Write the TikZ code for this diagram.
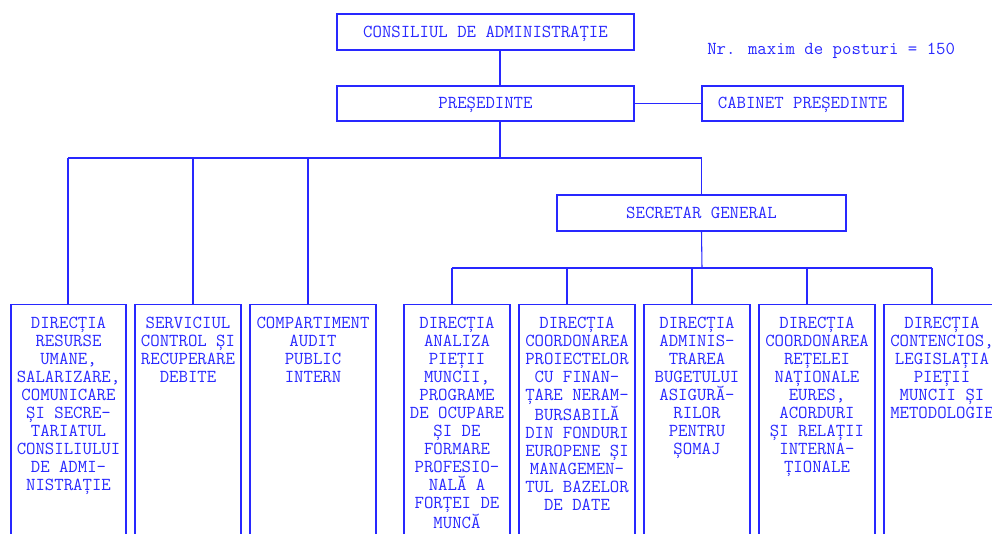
\documentclass[tikz,border=0pt]{standalone}
\usepackage{fontspec}
\definecolor{orgblue}{RGB}{40,40,255}
\tikzset{
  every node/.style={font=\ttfamily\fontsize{13.7}{13.5}\selectfont, text=orgblue},
  topbox/.style={draw=orgblue, line width=0.8pt, inner sep=0pt, text height=8.2pt, text depth=0pt},
  dirbox/.style={draw=orgblue, line width=0.8pt, anchor=north, minimum height=192.75pt},
  dirtext/.style={anchor=north, align=center, inner sep=0pt, yshift=-10.1pt},
  conn/.style={draw=orgblue, line width=0.8pt},
}
\begin{document}
\begin{tikzpicture}[x=0.75pt, y=-0.75pt]
			%%%%% START %%%%%
			\clip (0,0) rectangle (992,533);
			
			\node[topbox, minimum width=222.75pt, minimum height=27pt] (cons) at (485.5, 32) {CONSILIUL DE ADMINISTRAȚIE};
			\node[topbox, minimum width=222.75pt, minimum height=26.25pt] (pres) at (485.5, 103.5) {PREȘEDINTE};
			\node[topbox, minimum width=150.75pt, minimum height=26.25pt] (cab) at (802.5, 103.5) {CABINET PREȘEDINTE};
			\node[topbox, minimum width=216.75pt, minimum height=27pt] (sg) at (701.5, 213) {SECRETAR GENERAL};
			\node[anchor=west, inner sep=0pt, text height=8.2pt, text depth=0pt] (nrpost) at (707, 49.5) {Nr. maxim de posturi = 150};
			
			\coordinate (j1) at (500, 158);
			\coordinate (j2) at (702, 268);
			
			\draw[conn] (cons.south -| j1) -- (pres.north -| j1);
			\draw[conn] (pres) -- (cab);
			\draw[conn] (pres.south -| j1) -- (j1);
			\draw[conn] (68, 158) -- (j1 -| sg.north) -- (sg.north);
			\draw[conn] (sg.south) -- (j2);
			\draw[conn] (452, 268) -- (932, 268);
			
			% first row
			\node[dirbox, minimum width=86.25pt] (d1) at (68.5, 303.5) {};
			\node[dirbox, minimum width=79.5pt] (d2) at (188, 303.5) {};
			\node[dirbox, minimum width=94.5pt] (d3) at (313, 303.5) {};
			
			% under the secretar general
			\node[dirbox, minimum width=79.5pt] (d4) at (457, 303.5) {};
			\node[dirbox, minimum width=87pt] (d5) at (577, 303.5) {};
			\node[dirbox, minimum width=79.5pt] (d6) at (697, 303.5) {};
			\node[dirbox, minimum width=87pt] (d7) at (817, 303.5) {};
			\node[dirbox, minimum width=87pt] (d8) at (942, 303.5) {};
			
			\foreach \x/\d in {68/d1, 193/d2, 308/d3} {
				\coordinate (t\d) at (\x, 158);
				\draw[conn] (t\d) -- (\d.north -| t\d);
			}
			\foreach \x/\d in {452/d4, 567/d5, 692/d6, 807/d7, 932/d8} {
				\coordinate (t\d) at (\x, 268);
				\draw[conn] (t\d) -- (\d.north -| t\d);
			}
			
			\node[dirtext] at (d1.north) {DIRECȚIA\\RESURSE\\UMANE,\\SALARIZARE,\\COMUNICARE\\ȘI SECRE-\\TARIATUL\\CONSILIULUI\\DE ADMI-\\NISTRAȚIE};
			\node[dirtext] at (d2.north) {SERVICIUL\\CONTROL ȘI\\RECUPERARE\\DEBITE};
			\node[dirtext] at (d3.north) {COMPARTIMENT\\AUDIT\\PUBLIC\\INTERN};
			\node[dirtext] at (d4.north) {DIRECȚIA\\ANALIZA\\PIEȚII\\MUNCII,\\PROGRAME\\DE OCUPARE\\ȘI DE\\FORMARE\\PROFESIO-\\NALĂ A\\FORȚEI DE\\MUNCĂ};
			\node[dirtext] at (d5.north) {DIRECȚIA\\COORDONAREA\\PROIECTELOR\\CU FINAN-\\ȚARE NERAM-\\BURSABILĂ\\DIN FONDURI\\EUROPENE ȘI\\MANAGEMEN-\\TUL BAZELOR\\DE DATE};
			\node[dirtext] at (d6.north) {DIRECȚIA\\ADMINIS-\\TRAREA\\BUGETULUI\\ASIGURĂ-\\RILOR\\PENTRU\\ȘOMAJ};
			\node[dirtext] at (d7.north) {DIRECȚIA\\COORDONAREA\\REȚELEI\\NAȚIONALE\\EURES,\\ACORDURI\\ȘI RELAȚII\\INTERNA-\\ȚIONALE};
			\node[dirtext] at (d8.north) {DIRECȚIA\\CONTENCIOS,\\LEGISLAȚIA\\PIEȚII\\MUNCII ȘI\\METODOLOGIE};
			%%%%% END %%%%%
\end{tikzpicture}
\end{document}
